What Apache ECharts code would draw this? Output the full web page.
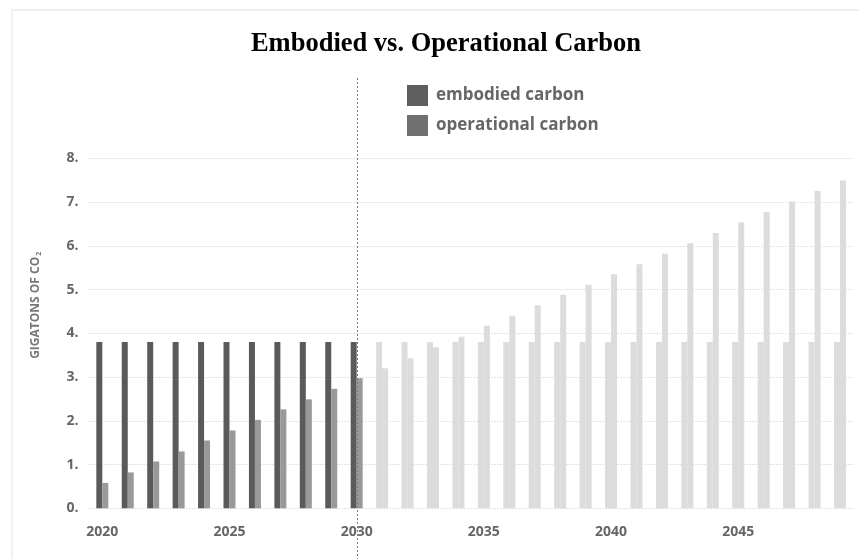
<!DOCTYPE html>
<html>
<head>
<meta charset="utf-8">
<script src="https://cdn.jsdelivr.net/npm/echarts@6/dist/echarts.min.js"></script>
<style>
	html, body {margin: 0; padding: 0; background: #fff;}
	#frame {position: absolute; left: 11px; top: 9px; right: 0; bottom: 0; border-top: 2px solid #efefef; border-left: 2px solid #f1f1f1;}
	#main {position: absolute; left: 0; top: 0; width: 859px; height: 559px;}
</style>
</head>
<body>
<div id="frame"></div>
<div id="main"></div>
<script>
// 年份
const years = ['2020', '2021', '2022', '2023', '2024', '2025', '2026', '2027', '2028', '2029',
	'2030', '2031', '2032', '2033', '2034', '2035', '2036', '2037', '2038', '2039',
	'2040', '2041', '2042', '2043', '2044', '2045', '2046', '2047', '2048', '2049'];
// 隐含碳
const embodied = [3.8, 3.8, 3.8, 3.8, 3.8, 3.8, 3.8, 3.8, 3.8, 3.8,
	3.8, 3.8, 3.8, 3.8, 3.8, 3.8, 3.8, 3.8, 3.8, 3.8,
	3.8, 3.8, 3.8, 3.8, 3.8, 3.8, 3.8, 3.8, 3.8, 3.8];
// 运营碳
const operational = [0.58, 0.82, 1.07, 1.3, 1.55, 1.78, 2.02, 2.26, 2.49, 2.73,
	2.97, 3.2, 3.43, 3.68, 3.92, 4.17, 4.4, 4.64, 4.88, 5.11,
	5.35, 5.58, 5.82, 6.06, 6.29, 6.54, 6.77, 7.01, 7.25, 7.49];
const yTicks = [0, 1, 2, 3, 4, 5, 6, 7, 8];
const dividerYear = '2030';

const labelFont = 'Open Sans';
const fadeColor = '#dcdcdc';

function colored(values, color) {
	return values.map((v, i) => ({
		value: v,
		itemStyle: {color: Number(years[i]) > Number(dividerYear) ? fadeColor : color}
	}));
}

let myChart = echarts.init(document.getElementById('main'));
let option = {
	animation: false,
	title: {
		text: 'Embodied vs. Operational Carbon',
		left: 441,
		top: 26,
		textAlign: 'center',
		textStyle: {
			fontFamily: 'Liberation Serif',
			fontWeight: 'bold',
			fontSize: 26.5,
			color: '#000'
		}
	},
	legend: {
		orient: 'vertical',
		left: 402,
		top: 80,
		itemWidth: 21,
		itemHeight: 21,
		itemGap: 9,
		icon: 'rect',
		selectedMode: false,
		data: [
			{name: 'embodied carbon', itemStyle: {color: '#5e5e5e'}},
			{name: 'operational carbon', itemStyle: {color: '#707070'}}
		],
		textStyle: {
			fontFamily: labelFont,
			fontWeight: 'bold',
			fontSize: 17,
			color: '#666',
			padding: [0, 0, 0, 3]
		}
	},
	grid: {
		left: 89.6,
		right: 6.3,
		top: 158.3,
		bottom: 50.7
	},
	xAxis: {
		type: 'category',
		data: years,
		boundaryGap: true,
		axisLine: {show: false},
		axisTick: {show: false},
		axisLabel: {
			interval: 4,
			margin: 17,
			fontFamily: labelFont,
			fontWeight: 'bold',
			fontSize: 14,
			color: '#666'
		}
	},
	yAxis: {
		type: 'value',
		min: yTicks[0],
		max: yTicks[yTicks.length - 1],
		interval: 1,
		name: 'GIGATONS OF CO{sub|2}',
		nameLocation: 'middle',
		nameGap: 47,
		nameTextStyle: {
			fontFamily: labelFont,
			fontWeight: 'bold',
			fontSize: 12,
			color: '#777',
			padding: [0, 0, 0, 56],
			rich: {
				sub: {
					fontFamily: labelFont,
					fontWeight: 'bold',
					fontSize: 7,
					color: '#777',
					verticalAlign: 'bottom',
					padding: [7, 0, 0, 1]
				}
			}
		},
		axisLabel: {
			margin: 11,
			formatter: v => v + '.',
			fontFamily: labelFont,
			fontWeight: 'bold',
			fontSize: 14,
			color: '#666'
		},
		splitLine: {
			lineStyle: {color: '#c8c8c8', type: [1, 2], width: 1}
		}
	},
	series: [{
		name: 'embodied carbon',
		type: 'bar',
		barWidth: 6,
		barGap: '0%',
		itemStyle: {color: '#5a5a5a'},
		data: colored(embodied, '#5a5a5a')
	}, {
		name: 'operational carbon',
		type: 'bar',
		barWidth: 6,
		barGap: '0%',
		itemStyle: {color: '#999999'},
		data: colored(operational, '#999999')
	}]
};
myChart.setOption(option);

// 2030 分隔虚线
let dividerX = Math.round(myChart.convertToPixel({xAxisIndex: 0}, dividerYear)) + 0.5;
myChart.setOption({
	graphic: [{
		type: 'line',
		z: 10,
		shape: {x1: dividerX, y1: 78, x2: dividerX, y2: 559},
		style: {stroke: '#777', lineWidth: 1, lineDash: [2, 2]}
	}]
});
</script>
</body>
</html>
